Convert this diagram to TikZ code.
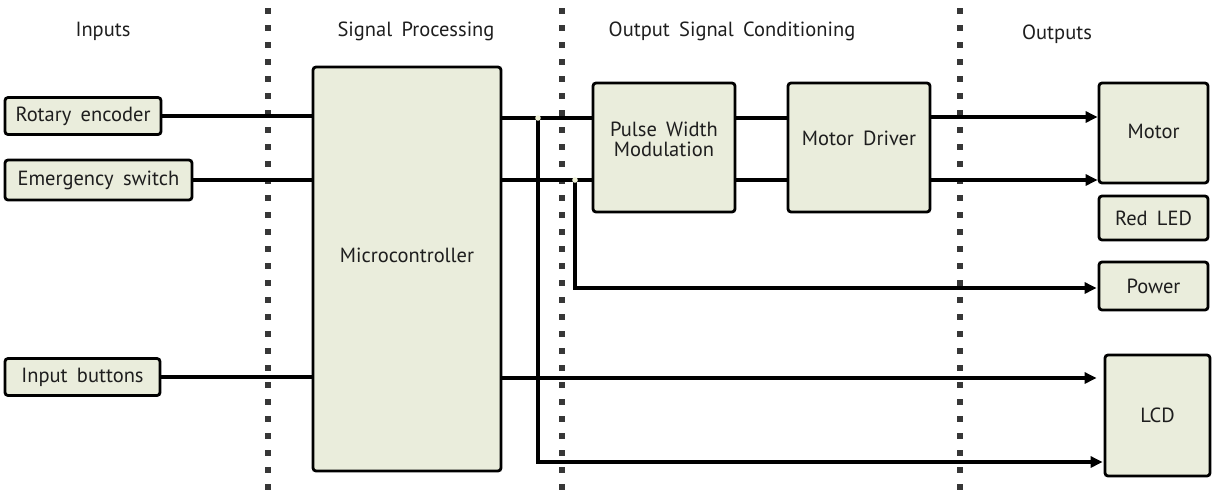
\documentclass[tikz,border=0pt]{standalone}
\usepackage{fontspec}
\setmainfont[WordSpace=1.7]{PT Sans}
\usetikzlibrary{arrows.meta}
\definecolor{boxfill}{RGB}{234,237,220}
\definecolor{dotgray}{RGB}{55,55,55}
\definecolor{jdot}{RGB}{240,242,215}
\definecolor{txt}{RGB}{30,30,30}
\tikzset{
  box/.style={draw=black, line width=2.8pt, rounded corners=3pt, fill=boxfill, inner sep=0pt, align=center, text=txt, font=\fontsize{20.5}{22}\selectfont},
  title/.style={font=\fontsize{20.5}{22}\selectfont, inner sep=0pt, text=txt, align=center},
  conn/.style={line width=4.3pt, draw=black},
  arr/.style={conn, -{Triangle[length=12pt,width=11pt]}},
  sep/.style={line width=5.5pt, draw=dotgray, dash pattern=on 5.5pt off 11.5pt},
  jdotst/.style={fill=jdot, draw=none}
}
\begin{document}
\begin{tikzpicture}[x=1pt,y=-1pt]
\useasboundingbox (0,0) rectangle (1212,499);
% separators
\coordinate (s1t) at (268,8); \coordinate (s1b) at (268,499);
\coordinate (s2t) at (562,8); \coordinate (s2b) at (562,499);
\coordinate (s3t) at (960,8); \coordinate (s3b) at (960,499);
\draw[sep] (s1t) -- (s1b);
\draw[sep] (s2t) -- (s2b);
\draw[sep] (s3t) -- (s3b);
% titles
\node[title] (t1) at (103,31) {Inputs};
\node[title] (t2) at (416,31) {Signal Processing};
\node[title] (t3) at (732,31) {Output Signal Conditioning};
\node[title] (t4) at (1057,34) {Outputs};
% boxes
\node[box, minimum width=156pt, minimum height=37pt] (rot) at (83,116) {Rotary encoder};
\node[box, minimum width=187pt, minimum height=40pt] (emg) at (98.5,180) {Emergency switch};
\node[box, minimum width=155pt, minimum height=37pt] (inb) at (82.5,377) {Input buttons};
\node[box, minimum width=188pt, minimum height=404pt] (micro) at (407,269) {};
\node[title] (microtxt) at (407,255) {Microcontroller};
\node[box, minimum width=142pt, minimum height=129pt] (pwm) at (664,147.5) {};
\node[title] (pwmtxt) at (664,139) {Pulse Width\\[-2pt]Modulation};
\node[box, minimum width=142pt, minimum height=129pt] (md) at (859,147.5) {};
\node[title] (mdtxt) at (859,138) {Motor Driver};
\node[box, minimum width=109pt, minimum height=100pt] (motor) at (1153.5,133) {};
\node[title] (motortxt) at (1153.5,131) {Motor};
\node[box, minimum width=109pt, minimum height=44pt] (led) at (1153.5,218) {Red LED};
\node[box, minimum width=109pt, minimum height=48pt] (power) at (1153.5,286) {Power};
\node[box, minimum width=105pt, minimum height=121pt] (lcd) at (1157.5,415.5) {LCD};
% input connectors
\draw[conn] (rot.east) -- (rot.east -| micro.west);
\draw[conn] (emg.east) -- (emg.east -| micro.west);
\draw[conn] (inb.east) -- (inb.east -| micro.west);
% micro to pwm
\coordinate (j1) at (538,118);
\coordinate (j2) at (575,180);
\draw[conn] (micro.east |- j1) -- (pwm.west |- j1);
\draw[conn] (micro.east |- j2) -- (pwm.west |- j2);
% pwm to md
\draw[conn] (pwm.east |- j1) -- (md.west |- j1);
\draw[conn] (pwm.east |- j2) -- (md.west |- j2);
% md to motor
\coordinate (m1) at (930,117);
\draw[arr] (md.east |- m1) -- (motor.west |- m1);
\draw[arr] (md.east |- j2) -- (motor.west |- j2);
% branches
\coordinate (b1) at (538,462);
\coordinate (b2) at (575,288);
\draw[arr, line join=miter, shorten >=1pt] (j1) -- (b1) -- (lcd.west |- b1);
\draw[arr, line join=miter, shorten >=1pt] (j2) -- (b2) -- (power.west |- b2);
% micro to lcd
\coordinate (l1) at (501,378);
\draw[arr, shorten >=7pt] (micro.east |- l1) -- (lcd.west |- l1);
% junction dots
\fill[jdotst] (j1) circle (2.8pt);
\fill[jdotst] (j2) circle (2.8pt);
\end{tikzpicture}
\end{document}
